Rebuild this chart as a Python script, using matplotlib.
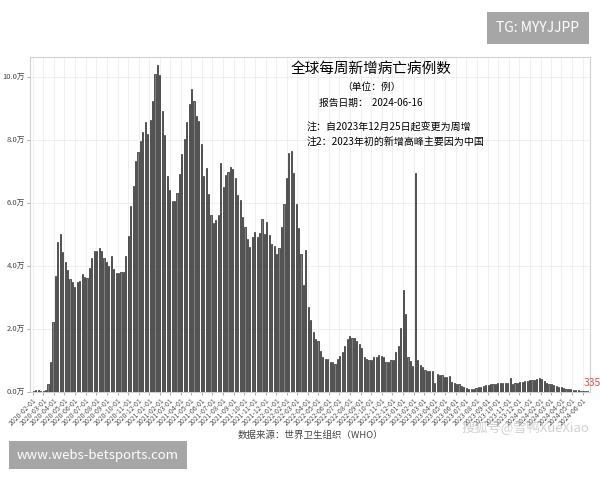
import pandas as pd
import matplotlib
matplotlib.use('Agg')
import matplotlib.pyplot as plt
import matplotlib.dates as mdates

plt.rcParams['font.family'] = ['Noto Sans CJK SC', 'DejaVu Sans']

# weekly new deaths worldwide (unit: 10k), one bar per week starting 2020-01-26
start_date = '2020-01-26'
weekly_deaths_wan = [
    0.005, 0.03, 0.05, 0.07, 0.04, 0.045, 0.07, 0.27, 0.96, 2.23,
    3.68, 4.76, 5.00, 4.43, 4.12, 3.87, 3.60, 3.48, 3.32, 3.48,
    3.52, 3.75, 3.66, 3.63, 3.93, 4.24, 4.48, 4.48, 4.56, 4.48,
    4.24, 4.14, 4.00, 4.32, 3.90, 3.77, 3.77, 3.82, 3.82, 4.30,
    4.95, 5.90, 6.54, 7.33, 7.61, 7.95, 8.24, 8.56, 8.18, 8.62,
    9.22, 10.08, 10.36, 10.06, 8.92, 8.14, 6.84, 6.40, 6.06, 6.06,
    6.32, 6.92, 7.54, 8.03, 8.58, 9.13, 9.60, 9.22, 8.76, 8.60,
    7.86, 6.84, 7.10, 6.29, 5.61, 5.35, 5.47, 5.62, 7.26, 6.52,
    6.89, 6.97, 7.13, 7.07, 6.78, 6.26, 6.08, 5.54, 5.24, 4.85,
    4.60, 4.93, 5.09, 4.92, 5.04, 5.48, 5.02, 5.39, 4.98, 4.71,
    4.63, 4.37, 4.56, 5.24, 5.98, 6.78, 7.58, 7.65, 6.96, 5.95,
    5.20, 4.38, 3.40, 4.50, 2.70, 2.29, 1.92, 1.67, 1.63, 1.30,
    1.12, 1.04, 1.04, 0.94, 0.94, 0.89, 1.04, 1.14, 1.26, 1.47,
    1.67, 1.78, 1.72, 1.72, 1.62, 1.52, 1.39, 1.12, 1.06, 1.02,
    1.02, 1.12, 1.10, 1.19, 1.14, 1.12, 0.95, 0.95, 1.02, 1.02,
    1.28, 1.47, 2.02, 3.24, 2.48, 1.10, 0.98, 0.84, 6.96, 1.02,
    0.86, 0.78, 0.70, 0.66, 0.68, 0.68, 0.28, 0.56, 0.53, 0.53,
    0.48, 0.48, 0.51, 0.31, 0.29, 0.26, 0.24, 0.19, 0.15, 0.12,
    0.11, 0.11, 0.11, 0.12, 0.17, 0.15, 0.19, 0.22, 0.22, 0.25,
    0.25, 0.25, 0.28, 0.28, 0.29, 0.30, 0.29, 0.45, 0.25, 0.30,
    0.30, 0.31, 0.31, 0.35, 0.36, 0.37, 0.37, 0.38, 0.42, 0.44,
    0.41, 0.35, 0.30, 0.26, 0.24, 0.22, 0.19, 0.17, 0.15, 0.13,
    0.11, 0.09, 0.08, 0.07, 0.06, 0.05, 0.045, 0.04, 0.037, 0.0335,
]
y_ticks = [0, 2, 4, 6, 8, 10]

title = '全球每周新增病亡病例数'
subtitle = '（单位：例）'
report_line = '报告日期：  2024-06-16'
note1 = '注：自2023年12月25日起变更为周增'
note2 = '注2：2023年初的新增高峰主要因为中国'
source = '数据来源：世界卫生组织（WHO）'

dates = pd.date_range(start_date, periods=len(weekly_deaths_wan), freq='7D')

fig = plt.figure(figsize=(6, 4.8), dpi=100)
ax = fig.add_axes([0.05, 0.1833, 0.9333, 0.698])

ax.bar(dates, weekly_deaths_wan, width=3.3, color='#808080',
       edgecolor='black', linewidth=0.4, zorder=3)

ax.set_xlim(pd.Timestamp('2020-01-23'), pd.Timestamp('2024-06-22'))
ax.set_ylim(0, 10.63)
ax.set_yticks(y_ticks)
ax.set_yticklabels(['%.1f万' % v for v in y_ticks], fontsize=5.5, color='#444444')

ax.xaxis.set_major_locator(mdates.MonthLocator(bymonthday=1))
ax.xaxis.set_major_formatter(mdates.DateFormatter('%Y-%m-%d'))
plt.setp(ax.get_xticklabels(), rotation=45, ha='right', rotation_mode='anchor',
         fontsize=5, color='#555555')
ax.tick_params(length=2, width=0.5, color='#888888', pad=1.5)

ax.grid(True, color='#ececec', linewidth=0.6, zorder=0)
for s in ax.spines.values():
    s.set_color('#d0d0d0')
    s.set_linewidth(0.8)

ax.set_xlabel(source, fontsize=6.8, color='#444444', labelpad=2)

# texts inside the plot
ax.text(0.609, 0.965, title, transform=ax.transAxes, ha='center', va='center',
        fontsize=10.5)
ax.text(0.609, 0.91, subtitle, transform=ax.transAxes, ha='center', va='center',
        fontsize=7)
ax.text(0.609, 0.863, report_line, transform=ax.transAxes, ha='center', va='center',
        fontsize=7)
ax.text(0.494, 0.79, note1, transform=ax.transAxes, ha='left', va='center',
        fontsize=7.2)
ax.text(0.494, 0.743, note2, transform=ax.transAxes, ha='left', va='center',
        fontsize=7.2)

# last value label
last = weekly_deaths_wan[-1]
ax.annotate(str(int(round(last * 10000))), (dates[-1], last), xytext=(3, 2),
            textcoords='offset points', ha='center', va='bottom',
            fontsize=7.5, color='#d9534f', style='italic', annotation_clip=False)

# watermarks
fig.text(538 / 600, 1 - 28 / 480, 'TG: MYYJJPP', ha='center', va='center',
         fontsize=10, color='white',
         bbox=dict(boxstyle='square,pad=0.65', fc='#a6a6a6', ec='none'))
fig.text(98 / 600, 1 - 455 / 480, 'www.webs-betsports.com', ha='center', va='center',
         fontsize=9.5, color='white',
         bbox=dict(boxstyle='square,pad=0.6', fc='#a6a6a6', ec='none'))
fig.text(525 / 600, 1 - 428 / 480, '搜狐号@雪鸭XueXiao', ha='center', va='center',
         fontsize=9.5, color='#c4c4c4', alpha=0.8)

fig.savefig('out.png', dpi=100)
